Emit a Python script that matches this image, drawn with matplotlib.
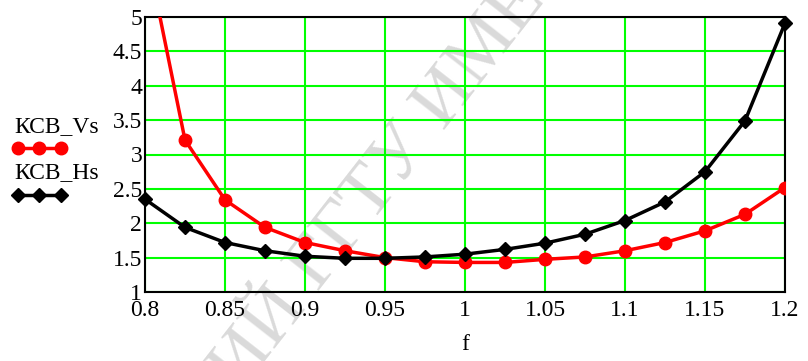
import matplotlib.pyplot as plt
from matplotlib.lines import Line2D

# frequency points
f = [0.8, 0.825, 0.85, 0.875, 0.9, 0.925, 0.95, 0.975, 1.0,
     1.025, 1.05, 1.075, 1.1, 1.125, 1.15, 1.175, 1.2]

# KCB vertical / horizontal
ksv_v = [6.07, 3.21, 2.34, 1.94, 1.72, 1.60, 1.50, 1.44, 1.43,
         1.43, 1.475, 1.51, 1.60, 1.72, 1.89, 2.13, 2.52]
ksv_h = [2.35, 1.94, 1.72, 1.60, 1.52, 1.49, 1.49, 1.51, 1.55,
         1.62, 1.71, 1.84, 2.04, 2.31, 2.75, 3.49, 4.91]

xticks = [0.8, 0.85, 0.9, 0.95, 1.0, 1.05, 1.1, 1.15, 1.2]
xlabels = ["0.8", "0.85", "0.9", "0.95", "1", "1.05", "1.1", "1.15", "1.2"]
yticks = [1, 1.5, 2, 2.5, 3, 3.5, 4, 4.5, 5]
ylabels = ["1", "1.5", "2", "2.5", "3", "3.5", "4", "4.5", "5"]

plt.rcParams['font.family'] = 'serif'
plt.rcParams['font.serif'] = ['Liberation Serif', 'Times New Roman', 'DejaVu Serif']

fig = plt.figure(figsize=(8.08, 3.61), dpi=100)
ax = fig.add_axes([145/808, 1-292/361, 640/808, 275/361])
ax.patch.set_alpha(0)

ax.plot(f, ksv_v, color='red', lw=2.5, marker='o', ms=9, clip_on=True, zorder=3)
ax.plot(f, ksv_h, color='black', lw=2.5, marker='D', ms=7.5, clip_on=False, zorder=4)

ax.set_xlim(0.8, 1.2)
ax.set_ylim(1, 5)
ax.set_xticks(xticks)
ax.set_xticklabels(xlabels)
ax.set_yticks(yticks)
ax.set_yticklabels(ylabels)
ax.tick_params(length=0, labelsize=17)
ax.tick_params(axis='x', pad=6)
ax.tick_params(axis='y', pad=2)
ax.grid(True, color='#00ff00', lw=1.5)
ax.set_axisbelow(True)
for s in ax.spines.values():
    s.set_linewidth(1.5)
ax.set_xlabel("f", fontsize=17, labelpad=9)

# legend on the left, outside the plot
fig.text(14/808, 1-127/361, "КСВ_Vs", fontsize=17, va='center', ha='left')
fig.text(14/808, 1-173/361, "КСВ_Hs", fontsize=17, va='center', ha='left')
fig.add_artist(Line2D([18/808, 39/808, 61/808], [1-148/361]*3, color='red',
                      lw=2.5, marker='o', ms=9))
fig.add_artist(Line2D([18/808, 39/808, 61/808], [1-195/361]*3, color='black',
                      lw=2.5, marker='D', ms=7.5))

# faint watermark behind the plot
wm = dict(fontsize=54, color='#dadada', rotation=52, va='baseline',
          rotation_mode='anchor', zorder=-1)
fig.text(318/808, 1-292/361, "РЕПОЗИТОРИЙ ", ha='right', **wm)
fig.text(318/808, 1-292/361, "ГГТУ ИМЕНИ", ha='left', **wm)

fig.savefig("out.png", dpi=100)
